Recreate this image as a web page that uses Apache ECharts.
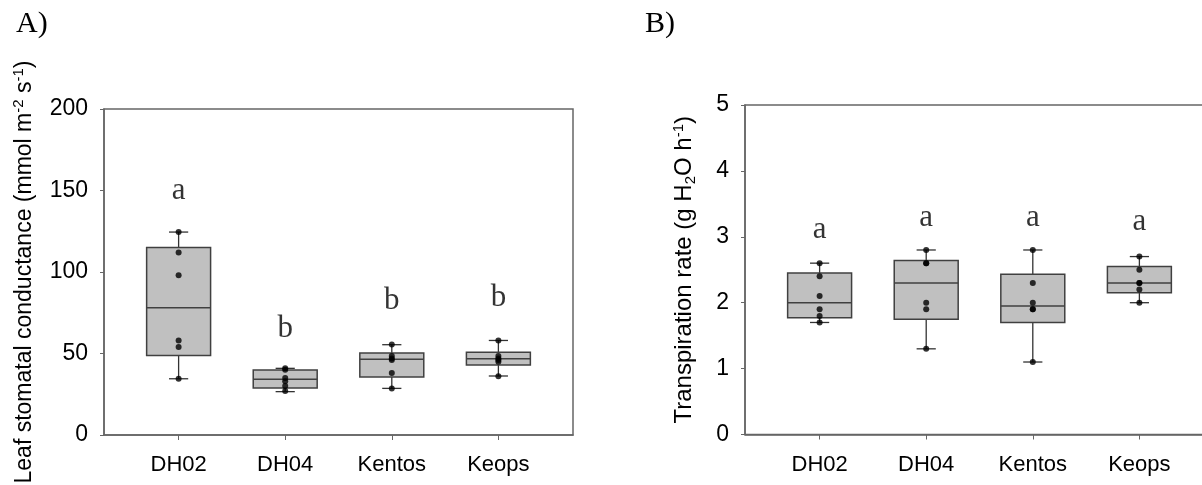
<!DOCTYPE html>
<html>
<head>
<meta charset="utf-8">
<script src="https://cdn.jsdelivr.net/npm/echarts@6/dist/echarts.min.js"></script>
<style>
  html, body { margin: 0; padding: 0; background: #fff; }
  #chart { width: 1202px; height: 485px; }
</style>
</head>
<body>
<div id="chart"></div>
<script>
// cultivars on the x axis (positions 1..4)
var cultivars = ['DH02', 'DH04', 'Kentos', 'Keops'];

// panel A: leaf stomatal conductance, box stats [min, q1, median, q3, max]
var gsBoxes = [
  [34.5, 48.7, 78, 115, 124.5],
  [26.6, 28.8, 34.2, 39.9, 40.9],
  [28.6, 35.6, 46.4, 50.3, 55.4],
  [36.2, 43, 46.8, 50.7, 58]
];
var gsPoints = [
  [124.5, 112, 98, 58, 54, 34.5],
  [41, 40, 35, 33, 30, 27],
  [55.5, 48.5, 47, 46, 38, 28.5],
  [58, 48.5, 47, 46, 45, 36]
];
var gsLetters = ['a', 'b', 'b', 'b'];
var gsLetterY = [150, 65, 82, 84];

// panel B: transpiration rate
var trBoxes = [
  [1.7, 1.77, 2.0, 2.45, 2.6],
  [1.3, 1.75, 2.3, 2.64, 2.8],
  [1.1, 1.7, 1.95, 2.43, 2.8],
  [2.0, 2.15, 2.3, 2.55, 2.7]
];
var trPoints = [
  [2.6, 2.4, 2.1, 1.9, 1.8, 1.7],
  [2.8, 2.6, 2.6, 2.0, 1.9, 1.3],
  [2.8, 2.3, 2.0, 1.9, 1.9, 1.1],
  [2.7, 2.5, 2.3, 2.3, 2.2, 2.0]
];
var trLetters = ['a', 'a', 'a', 'a'];
var trLetterY = [3.1, 3.28, 3.28, 3.23];

var sans = 'Liberation Sans, Arial, sans-serif';
var serif = 'Liberation Serif, Times New Roman, serif';
var axisColor = '#666';

function boxData(boxes) {
  return boxes.map(function (b, i) { return [i + 1].concat(b); });
}
function pointData(points) {
  var out = [];
  points.forEach(function (arr, i) {
    arr.forEach(function (v) { out.push([i + 1, v]); });
  });
  return out;
}
function letterData(letters, ys) {
  return letters.map(function (l, i) { return [i + 1, ys[i], l]; });
}

function renderBox(params, api) {
  var x = api.value(0);
  var lo = api.coord([x, api.value(1)]);
  var q1 = api.coord([x, api.value(2)]);
  var md = api.coord([x, api.value(3)]);
  var q3 = api.coord([x, api.value(4)]);
  var hi = api.coord([x, api.value(5)]);
  var half = api.size([0.6, 0])[0] / 2;
  var cap = api.size([0.18, 0])[0] / 2;
  var line = { stroke: '#333', lineWidth: 1.3 };
  return {
    type: 'group',
    children: [
      { type: 'line', shape: { x1: hi[0], y1: hi[1], x2: q3[0], y2: q3[1] }, style: line },
      { type: 'line', shape: { x1: q1[0], y1: q1[1], x2: lo[0], y2: lo[1] }, style: line },
      { type: 'line', shape: { x1: hi[0] - cap, y1: hi[1], x2: hi[0] + cap, y2: hi[1] }, style: line },
      { type: 'line', shape: { x1: lo[0] - cap, y1: lo[1], x2: lo[0] + cap, y2: lo[1] }, style: line },
      { type: 'rect', shape: { x: q3[0] - half, y: q3[1], width: half * 2, height: q1[1] - q3[1] },
        style: { fill: '#c0c0c0', stroke: '#404040', lineWidth: 1.5 } },
      { type: 'line', shape: { x1: md[0] - half, y1: md[1], x2: md[0] + half, y2: md[1] },
        style: { stroke: '#404040', lineWidth: 1.5 } }
    ]
  };
}

function xAxisOpt(gridIndex) {
  return {
    gridIndex: gridIndex, type: 'value', min: 0.3, max: 4.7,
    axisLine: { show: true, lineStyle: { color: axisColor, width: 1.5 } },
    axisTick: { show: true, length: 5, customValues: [1, 2, 3, 4], lineStyle: { color: axisColor } },
    axisLabel: { customValues: [1, 2, 3, 4], margin: 19, color: '#000', fontSize: 22, fontFamily: sans,
      formatter: function (v) { return cultivars[Math.round(v) - 1]; } },
    splitLine: { show: false }
  };
}

var rich = {
  sup: { fontSize: 15, fontFamily: sans, color: '#000', verticalAlign: 'top', padding: [0, 0, 12, 0] },
  sub: { fontSize: 15, fontFamily: sans, color: '#000', verticalAlign: 'bottom', padding: [10, 0, 0, 0] }
};

var option = {
  animation: false,
  backgroundColor: '#fff',
  title: [
    { text: 'A)', left: 11, top: 4, textStyle: { fontFamily: serif, fontWeight: 'normal', fontSize: 30, color: '#000' } },
    { text: 'B)', left: 640, top: 4, textStyle: { fontFamily: serif, fontWeight: 'normal', fontSize: 30, color: '#000' } }
  ],
  grid: [
    { left: 104, top: 109, width: 469, height: 326, outerBoundsMode: 'none', containLabel: false,
      show: true, borderColor: axisColor, borderWidth: 1.5 },
    { left: 745, top: 105, width: 469, height: 329.5, outerBoundsMode: 'none', containLabel: false,
      show: true, borderColor: axisColor, borderWidth: 1.5 }
  ],
  xAxis: [xAxisOpt(0), xAxisOpt(1)],
  yAxis: [
    {
      gridIndex: 0, type: 'value', min: 0, max: 200, interval: 50,
      name: 'Leaf stomatal conductance (mmol m{sup|-2} s{sup|-1})',
      nameLocation: 'middle', nameGap: 66,
      nameTextStyle: { fontSize: 23, fontFamily: sans, color: '#000', rich: rich },
      axisLine: { show: true, lineStyle: { color: axisColor, width: 1.5 } },
      axisTick: { show: true, length: 4, lineStyle: { color: axisColor } },
      axisLabel: { margin: 16, color: '#000', fontSize: 23, fontFamily: sans },
      splitLine: { show: false }
    },
    {
      gridIndex: 1, type: 'value', min: 0, max: 5, interval: 1,
      name: 'Transpiration rate (g H{sub|2}O h{sup|-1})',
      nameLocation: 'middle', nameGap: 47,
      nameTextStyle: { fontSize: 24, fontFamily: sans, color: '#000', rich: rich },
      axisLine: { show: true, lineStyle: { color: axisColor, width: 1.5 } },
      axisTick: { show: true, length: 4, lineStyle: { color: axisColor } },
      axisLabel: { margin: 16, color: '#000', fontSize: 23, fontFamily: sans },
      splitLine: { show: false }
    }
  ],
  series: [
    { type: 'custom', xAxisIndex: 0, yAxisIndex: 0, renderItem: renderBox, data: boxData(gsBoxes), z: 2 },
    { type: 'scatter', xAxisIndex: 0, yAxisIndex: 0, data: pointData(gsPoints), symbolSize: 6,
      itemStyle: { color: '#000' }, z: 3 },
    { type: 'scatter', xAxisIndex: 0, yAxisIndex: 0, data: letterData(gsLetters, gsLetterY), symbolSize: 0,
      label: { show: true, position: 'inside', formatter: function (p) { return p.value[2]; },
        fontFamily: serif, fontSize: 31, color: '#000' } },
    { type: 'custom', xAxisIndex: 1, yAxisIndex: 1, renderItem: renderBox, data: boxData(trBoxes), z: 2 },
    { type: 'scatter', xAxisIndex: 1, yAxisIndex: 1, data: pointData(trPoints), symbolSize: 6,
      itemStyle: { color: '#000' }, z: 3 },
    { type: 'scatter', xAxisIndex: 1, yAxisIndex: 1, data: letterData(trLetters, trLetterY), symbolSize: 0,
      label: { show: true, position: 'inside', formatter: function (p) { return p.value[2]; },
        fontFamily: serif, fontSize: 31, color: '#000' } }
  ]
};

var myChart = echarts.init(document.getElementById('chart'));
myChart.setOption(option);
</script>
</body>
</html>
